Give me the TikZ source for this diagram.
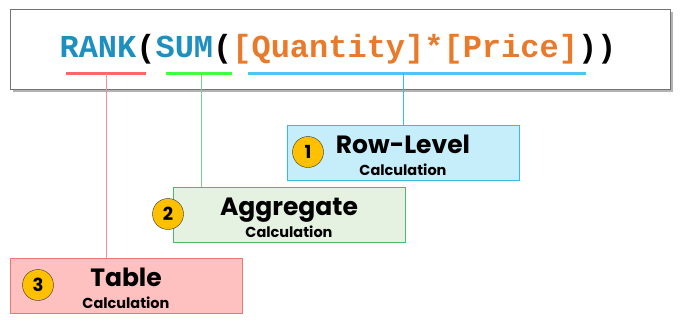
\documentclass[tikz,border=0pt]{standalone}
\usepackage{fontspec}
\setmainfont{Poppins}
\newfontfamily\codefont{Liberation Mono}
\usetikzlibrary{positioning}
\usetikzlibrary{shadows}
\definecolor{keyblue}{HTML}{1E90C0}
\definecolor{fieldorange}{HTML}{E87A2A}
\definecolor{rowfill}{HTML}{C5EEFA}
\definecolor{rowline}{HTML}{3CB9E3}
\definecolor{aggfill}{HTML}{E6F2E1}
\definecolor{aggline}{HTML}{4DB86B}
\definecolor{tblfill}{HTML}{FFC0C0}
\definecolor{tblline}{HTML}{F07474}
\definecolor{badgegold}{HTML}{FFC000}
\newcommand{\colorr}{tblline}
\newcommand{\colorg}{aggline}
\newcommand{\colorb}{rowline}
\tikzset{
  calcbox/.style={draw, line width=1pt, minimum width=232pt, minimum height=55pt,
    align=center, inner sep=0pt, font=\fontsize{25}{25}\selectfont\bfseries},
  numbadge/.style={circle, draw=black!80, fill=badgegold, minimum size=31pt,
    inner sep=0pt, font=\fontsize{18}{18}\selectfont\bfseries},
  codeframe/.style={draw=black!55, fill=white, line width=.8pt, minimum width=660pt,
    minimum height=80pt, drop shadow={opacity=.6, shadow xshift=2.5pt, shadow yshift=-2.5pt}}
}
\newcommand{\calctext}[1]{\rule{0pt}{25pt}#1\\[-3pt]
  {\fontsize{14.5}{15}\selectfont\bfseries Calculation}}

\begin{document}
\begin{tikzpicture}[x=1pt, y=-1pt]
          \useasboundingbox (0,0) rectangle (682,325);

          \node[codeframe] (codebox) at (340,49) {};
          \node[anchor=base, inner sep=0pt] (formula) at (338,57)
            {\codefont\fontsize{32}{32}\selectfont\bfseries
             \textcolor{keyblue}{RANK}(\textcolor{keyblue}{SUM}(\textcolor{fieldorange}{[Quantity]*[Price]}))};

          \coordinate (rank1) at (66,73);
          \coordinate (rank2) at (146,73);
          \coordinate (sum1) at (166,73);
          \coordinate (sum2) at (232,73);
          \coordinate (row1) at (248,73);
          \coordinate (row2) at (586,73);

          \coordinate (rankdrop) at (106,73);
          \coordinate (sumdrop) at (201,73);
          \coordinate (rowdrop) at (403,73);

          \node[calcbox, draw=rowline, fill=rowfill] (rowcalc) at (403,152.5) {\calctext{Row-Level}};
          \node[calcbox, draw=aggline, fill=aggfill] (aggcalc) at (289,214.5) {\calctext{Aggregate}};
          \node[calcbox, draw=tblline, fill=tblfill] (tblcalc) at (126,285.5) {\calctext{Table}};

          \draw[line width=3pt, red!60!white] (rank1) -- (rank2);
          \draw[line width=3pt, green!75!white] (sum1) -- (sum2);
          \draw[line width=3pt, cyan!70!white] (row1) -- (row2);

          \draw[line width=1pt, \colorr!80!white] (rankdrop) -- (rankdrop |- tblcalc.north);
          \draw[line width=1pt, \colorg!70!white] (sumdrop) -- (sumdrop |- aggcalc.north);
          \draw[line width=1pt, \colorb] (rowdrop) -- (rowdrop |- rowcalc.north);

          \foreach \n/\x/\y in {1/308/152, 2/168/214, 3/38/285}{
            \node[numbadge] (num\n) at (\x,\y) {\n};
          }

        \end{tikzpicture}
\end{document}
